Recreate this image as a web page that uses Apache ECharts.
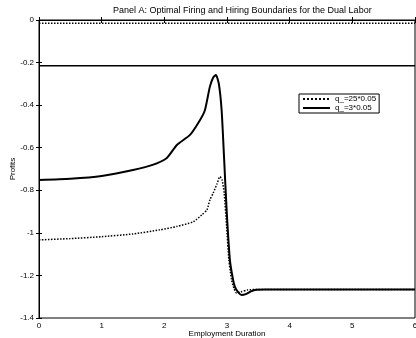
<!DOCTYPE html>
<html><head><meta charset="utf-8">
<script src="https://cdn.jsdelivr.net/npm/echarts@6/dist/echarts.min.js"></script>
<style>html,body{margin:0;padding:0;background:#fff}#c{width:416px;height:338px}</style>
</head><body><div id="c"></div>
<script>
const titleText = 'Panel A: Optimal Firing and Hiring Boundaries for the Dual Labor';
const xTicks = [0,1,2,3,4,5,6];
const yTicks = [0,-0.2,-0.4,-0.6,-0.8,-1,-1.2,-1.4];
const seriesNames = ['q_=25*0.05','q_=3*0.05'];

const dotX = [0,0.5,1,1.5,1.93,2.2,2.46,2.6,2.68,2.727,2.78,2.84,2.887,2.92,2.955,2.994,3.03,3.073,3.11,3.153,3.22,3.33,3.5,4,5,6];
const dotY = [-1.033,-1.027,-1.018,-1.005,-0.986,-0.97,-0.948,-0.915,-0.892,-0.845,-0.813,-0.77,-0.736,-0.75,-0.813,-0.971,-1.127,-1.221,-1.26,-1.283,-1.278,-1.268,-1.266,-1.266,-1.266,-1.266];

const solX = [0,0.5,1,1.5,1.8,2.04,2.2,2.41,2.57,2.648,2.727,2.78,2.823,2.87,2.914,2.955,2.994,3.046,3.09,3.126,3.18,3.233,3.3,3.38,3.445,3.6,4,5,6];
const solY = [-0.752,-0.746,-0.733,-0.705,-0.682,-0.648,-0.587,-0.54,-0.47,-0.423,-0.313,-0.27,-0.258,-0.30,-0.423,-0.658,-0.893,-1.127,-1.21,-1.254,-1.28,-1.292,-1.288,-1.275,-1.268,-1.266,-1.266,-1.266,-1.266];

const boundX = [0,6];
const dotBound = [-0.015,-0.015];
const solBound = [-0.215,-0.215];

const zip = (a,b) => a.map((v,i)=>[v,b[i]]);
const font = 'Liberation Sans, Arial, sans-serif';
const chart = echarts.init(document.getElementById('c'), null, {renderer:'canvas'});
const axBase = {
  min: 0, max: 6, interval: 1,
  axisLine:{show:true,lineStyle:{color:'#000',width:1}},
  axisTick:{show:true,inside:true,length:3,lineStyle:{color:'#000'}},
  splitLine:{show:false}
};
chart.setOption({
  animation:false,
  backgroundColor:'#fff',
  title:{text:titleText,left:108,top:1,textStyle:{fontSize:9,fontWeight:'normal',color:'#000',fontFamily:font}},
  grid:{left:39,right:1,top:20,bottom:20,show:true,borderColor:'#000',borderWidth:1,containLabel:false,outerBoundsMode:'none'},
  legend:{data:seriesNames,orient:'vertical',left:299,top:94,itemWidth:27,itemHeight:8,itemGap:1,padding:[1,3],
    itemStyle:{opacity:0},
    borderColor:'#000',borderWidth:1,backgroundColor:'#fff',textStyle:{fontSize:8,color:'#000',fontFamily:font}},
  xAxis:[
    Object.assign({type:'value',position:'bottom',name:'Employment Duration',nameLocation:'middle',nameGap:12,nameMoveOverlap:false,
      nameTextStyle:{fontSize:8,color:'#000',fontFamily:font},
      axisLabel:{fontSize:8,color:'#000',margin:4,fontFamily:font}},axBase),
    Object.assign({type:'value',position:'top',axisLabel:{show:false}},axBase)
  ],
  yAxis:[
    {type:'value',min:-1.4,max:0,interval:0.2,position:'left',name:'Profits',nameLocation:'middle',nameGap:22,nameMoveOverlap:false,
      nameTextStyle:{fontSize:8,color:'#000',fontFamily:font},
      axisLine:{show:true,lineStyle:{color:'#000'}},
      axisTick:{show:true,inside:true,length:3,lineStyle:{color:'#000'}},
      splitLine:{show:false},
      axisLabel:{fontSize:8,color:'#000',margin:5,fontFamily:font,formatter:v=>String(Math.round(v*10)/10)}},
    {type:'value',min:-1.4,max:0,interval:0.2,position:'right',
      axisLine:{show:true,lineStyle:{color:'#000'}},
      axisTick:{show:true,inside:true,length:3,lineStyle:{color:'#000'}},
      splitLine:{show:false},axisLabel:{show:false}}
  ],
  series:[
    {name:'bd1',type:'line',data:zip(boundX,dotBound),symbol:'none',lineStyle:{color:'#000',width:1.5,type:'dotted'},silent:true},
    {name:'bd2',type:'line',data:zip(boundX,solBound),symbol:'none',lineStyle:{color:'#000',width:1.5,type:'solid'},silent:true},
    {name:seriesNames[0],type:'line',data:zip(dotX,dotY),symbol:'none',smooth:0.2,itemStyle:{color:'#000'},lineStyle:{color:'#000',width:1.5,type:'dotted'}},
    {name:seriesNames[1],type:'line',data:zip(solX,solY),symbol:'none',smooth:0.2,itemStyle:{color:'#000'},lineStyle:{color:'#000',width:2,type:'solid'}}
  ]
});
</script></body></html>
